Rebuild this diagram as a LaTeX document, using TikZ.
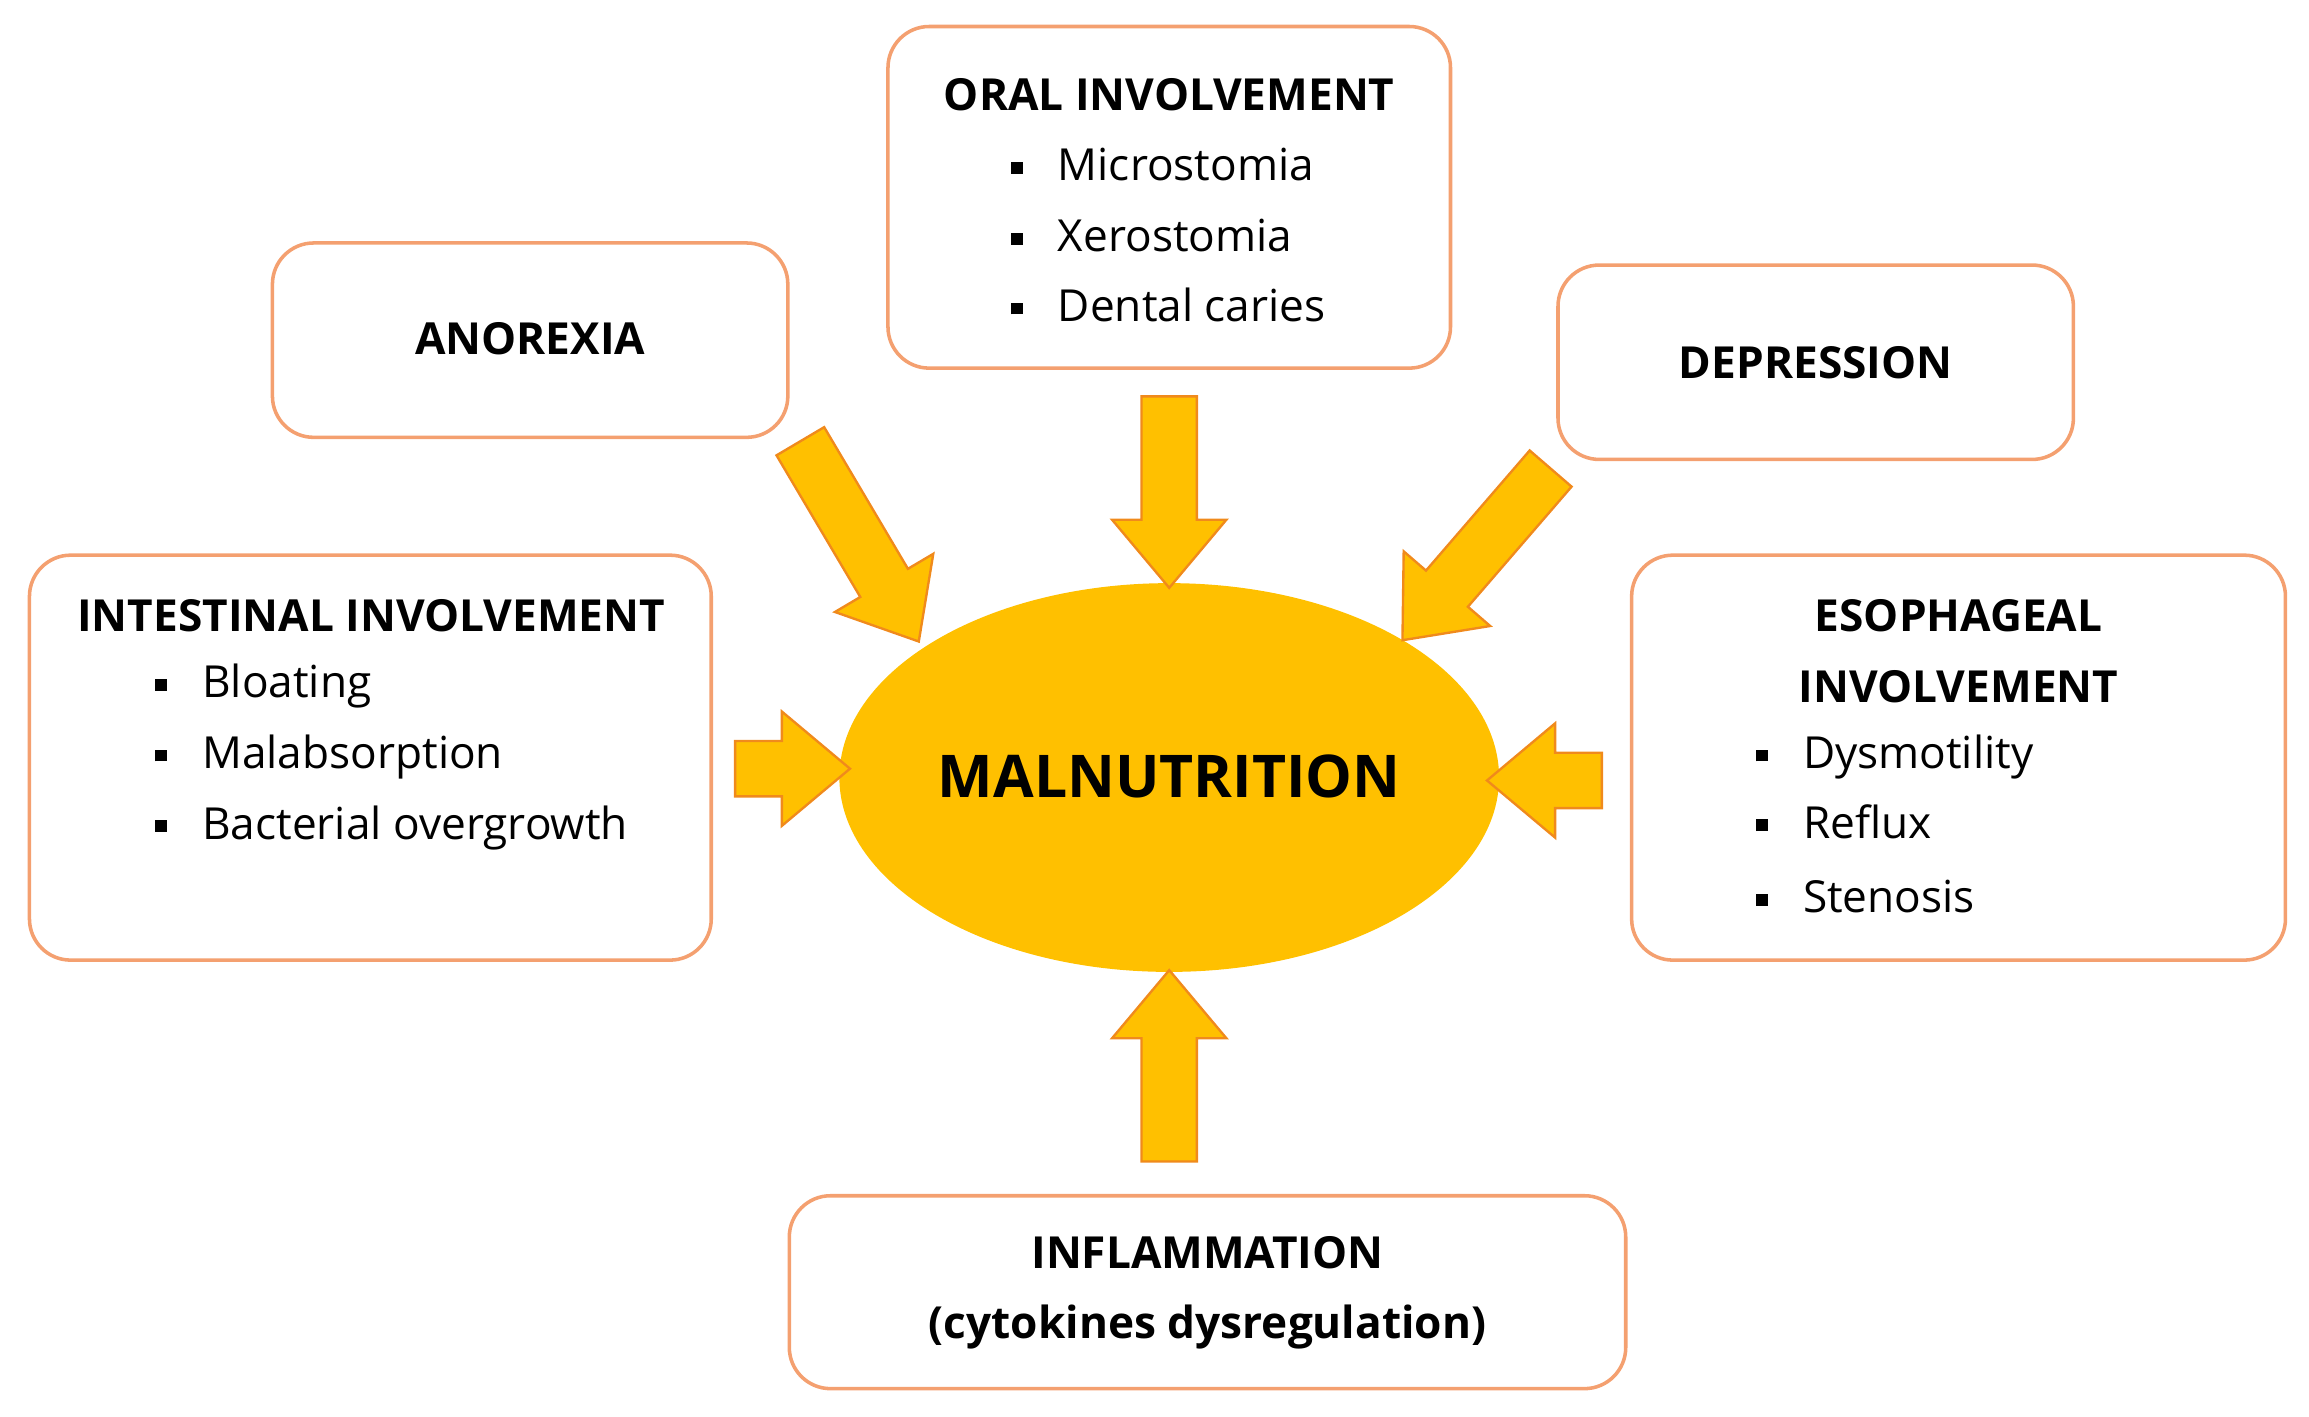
\documentclass[tikz,border=0pt]{standalone}
\usepackage{fontspec}
\setmainfont{Open Sans}
\usetikzlibrary{shapes.arrows,shapes.geometric}
\definecolor{boxline}{HTML}{F4A070}
\definecolor{gold}{HTML}{FFC000}
\definecolor{arrline}{HTML}{F08A1C}
\tikzset{
  box/.style={draw=boxline,line width=1.2pt,rounded corners=14pt,fill=white},
  ttl/.style={font=\fontsize{15}{18}\selectfont\bfseries,align=center},
  itm/.style={font=\fontsize{15}{18}\selectfont,anchor=west,inner sep=0pt},
  bigarrow/.style={single arrow,draw=arrline,fill=gold,line width=0.8pt,inner sep=0pt,
     single arrow head extend=10pt,single arrow tip angle=80},
}
\newcommand{\bsq}{\rule[0.3ex]{4pt}{4pt}\hspace{12pt}}
\newcommand{\shaft}{\rule{0pt}{18pt}}
\begin{document}
\begin{tikzpicture}[x=0.5pt,y=-0.5pt]
\useasboundingbox (0,0) rectangle (1568,962);
% boxes
\draw[box] (603,18) rectangle (985,250);
\draw[box] (185,165) rectangle (535,297);
\draw[box] (1058,180) rectangle (1408,312);
\draw[box] (20,377) rectangle (483,652);
\draw[box] (1108,377) rectangle (1552,652);
\draw[box] (536,812) rectangle (1104,943);
% centre
\node[ellipse,fill=gold,minimum width=224pt,minimum height=132pt,inner sep=0pt,draw=none] (mal) at (794,528) {};
\node[font=\fontsize{20}{24}\selectfont\bfseries] (maltxt) at (794,527) {MALNUTRITION};
% texts
\node[ttl] (oral) at (794,64) {ORAL INVOLVEMENT};
\node[itm] (o1) at (686,112) {\bsq Microstomia};
\node[itm] (o2) at (686,160) {\bsq Xerostomia};
\node[itm] (o3) at (686,207) {\bsq Dental caries};
\node[ttl] (ano) at (360,230) {ANOREXIA};
\node[ttl] (dep) at (1233,246) {DEPRESSION};
\node[ttl] (int) at (252,418) {INTESTINAL INVOLVEMENT};
\node[itm] (i1) at (105,466) {\bsq Bloating};
\node[itm] (i2) at (105,514) {\bsq Malabsorption};
\node[itm] (i3) at (105,562) {\bsq Bacterial overgrowth};
\node[ttl] (eso) at (1330,442) {ESOPHAGEAL\\[6pt]INVOLVEMENT};
\node[itm] (e1) at (1192,514) {\bsq Dysmotility};
\node[itm] (e2) at (1192,562) {\bsq Reflux\strut};
\node[itm] (e3) at (1192,609) {\bsq Stenosis};
\node[ttl] (inf) at (820,878) {INFLAMMATION\\[6pt](cytokines dysregulation)};
% arrows
\node[bigarrow,minimum height=65pt,rotate=-90] (a1) at (794,323) {\shaft};
\node[bigarrow,minimum height=65pt,rotate=90] (a2) at (794,735) {\shaft};
\node[bigarrow,minimum height=39pt,rotate=0] (a3) at (527,522) {\shaft};
\node[bigarrow,minimum height=39pt,rotate=180] (a4) at (1060,530) {\shaft};
\node[bigarrow,minimum height=79pt,rotate=-59.4] (a5) at (578,358) {\shaft};
\node[bigarrow,minimum height=77pt,rotate=-130.8] (a6) at (1010,368) {\shaft};
\end{tikzpicture}
\end{document}
